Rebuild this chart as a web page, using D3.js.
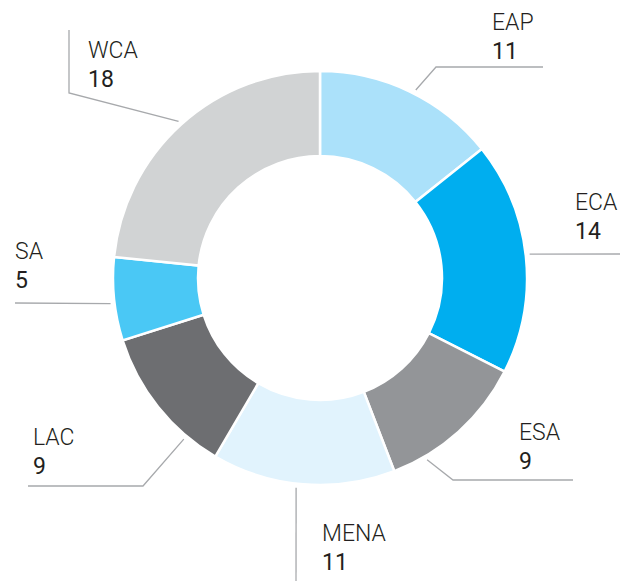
<!DOCTYPE html>
<html>
<head>
<meta charset="utf-8">
<script src="https://cdn.jsdelivr.net/npm/d3@7"></script>
<style>
  body { margin: 0; background: #fff; }
  text { font-family: Roboto, "Liberation Sans", sans-serif; }
</style>
</head>
<body>
<div id="chart"></div>
<script>
var regions = ["EAP", "ECA", "ESA", "MENA", "LAC", "SA", "WCA"];
var counts = [11, 14, 9, 11, 9, 5, 18];
var colors = ["#abe1fa", "#00aeef", "#939598", "#e1f3fd", "#6d6e71", "#4ac8f5", "#d1d3d4"];

var width = 632, height = 581,
    cx = 320, cy = 278,
    outerR = 207, innerR = 122;

// leader lines + label placement (layout only)
var labelLayout = {
    EAP:  { angle: 27,    pts: [[436, 67], [543, 67]],  tx: 492, ty: 30 },
    ECA:  { angle: 83.5,  pts: [[620, 254]],            tx: 575, ty: 210 },
    ESA:  { angle: 149.5, pts: [[453, 480], [573, 480]], tx: 519, ty: 440 },
    MENA: { angle: 186.5, pts: [[296, 581]],            tx: 322, ty: 541 },
    LAC:  { angle: 220.2, pts: [[143, 486], [28, 486]],  tx: 33,  ty: 445 },
    SA:   { angle: 263,   pts: [[15, 303]],             tx: 15,  ty: 259 },
    WCA:  { angle: 317.9, pts: [[69, 93], [69, 30]],    tx: 88,  ty: 58 }
};

var data = regions.map(function(r, i) { return { name: r, value: counts[i] }; });

var svg = d3.select("#chart")
    .append("svg")
    .attr("width", width)
    .attr("height", height);

var color = d3.scaleOrdinal().domain(regions).range(colors);

var pie = d3.pie()
    .value(function(d) { return d.value; })
    .sort(null);

var arc = d3.arc()
    .innerRadius(innerR)
    .outerRadius(outerR);

var g = svg.append("g")
    .attr("transform", "translate(" + cx + "," + cy + ")");

g.selectAll("path")
    .data(pie(data))
    .enter()
    .append("path")
    .attr("d", arc)
    .style("fill", function(d) { return color(d.data.name); })
    .style("stroke", "#fff")
    .style("stroke-width", 2.5);

// leaders
var line = d3.line();
data.forEach(function(d) {
    var L = labelLayout[d.name];
    var p = d3.pointRadial(L.angle * Math.PI / 180, 211);
    var pts = [[cx + p[0], cy + p[1]]].concat(L.pts);
    svg.append("path")
        .attr("d", line(pts))
        .style("fill", "none")
        .style("stroke", "#a7a9ac")
        .style("stroke-width", 1.3);

    svg.append("text")
        .attr("x", L.tx)
        .attr("y", L.ty)
        .attr("textLength", null)
        .style("font-size", "23px")
        .style("font-weight", 300)
        .style("fill", "#231f20")
        .text(d.name);

    svg.append("text")
        .attr("x", L.tx)
        .attr("y", L.ty + 29)
        .style("font-size", "23px")
        .style("font-weight", 400)
        .style("fill", "#231f20")
        .text(d.value);
});
</script>
</body>
</html>
